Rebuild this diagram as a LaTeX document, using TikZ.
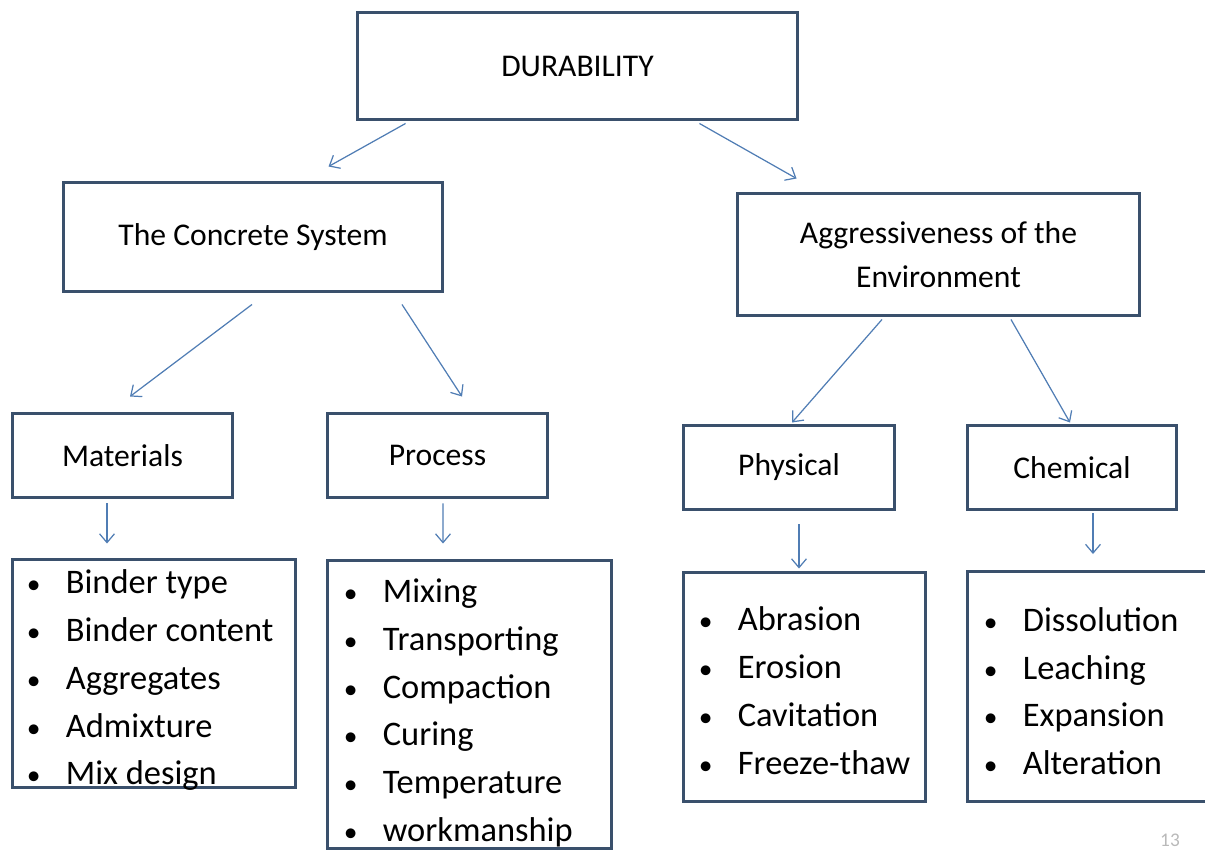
\documentclass[tikz,border=0pt]{standalone}
\usepackage{fontspec}
\setmainfont{Carlito}
\usetikzlibrary{arrows.meta, positioning}
\definecolor{boxline}{RGB}{58,80,108}
\definecolor{arrline}{RGB}{80,125,180}
\newcommand{\itm}[1]{\makebox[0.78cm][l]{\scalebox{0.8}{\textbullet}}#1}

\begin{document}
\begin{tikzpicture}[
    x=0.02cm, y=-0.02cm,
    box/.style={draw=boxline, line width=1.7pt, minimum height=1.7cm, align=center, font=\fontsize{18}{25}\selectfont},
    listbox/.style={draw=boxline, line width=1.7pt},
    items/.style={anchor=north west, inner sep=0pt, align=left, font=\fontsize{19.6}{27.2}\selectfont},
    arr/.style={-{Straight Barb[length=5pt,width=8.5pt]}, draw=arrline, line width=0.7pt}
  ]
  \useasboundingbox (0,0) rectangle (1205,851);

  % Top box
  \node[box, minimum width=8.82cm, minimum height=2.16cm] (dur) at (577.5,66) {DURABILITY};

  % Second level
  \node[box, minimum width=7.6cm, minimum height=2.2cm] (conc) at (253,237) {The Concrete System};
  \node[box, minimum width=8.06cm, minimum height=2.46cm] (aggr) at (938.5,254.5) {Aggressiveness of the\\Environment};

  % Third level
  \node[box, minimum width=4.42cm] (mat) at (122.5,455.5) {Materials};
  \node[box, minimum width=4.42cm] (proc) at (437.5,455.5) {Process};
  \node[box, minimum width=4.24cm] (phys) at (789,467.5) {Physical};
  \node[box, minimum width=4.2cm] (chem) at (1072,467.5) {Chemical};

  % List boxes
  \node[listbox, minimum width=5.68cm, minimum height=4.58cm] (matlist) at (154,673.5) {};
  \node[listbox, minimum width=5.7cm, minimum height=5.78cm] (proclist) at (469.5,704.5) {};
  \node[listbox, minimum width=4.86cm, minimum height=4.6cm] (physlist) at (804.5,687) {};
  \node[listbox, minimum width=4.96cm, minimum height=4.6cm] (chemlist) at (1091,686.5) {};

  % List items
  \node[items] (matitems) at ([shift={(16,12)}]matlist.north west)
    {\itm{Binder type}\\ \itm{Binder content}\\ \itm{Aggregates}\\ \itm{Admixture}\\ \itm{Mix design}};
  \node[items] (procitems) at ([shift={(18,20)}]proclist.north west)
    {\itm{Mixing}\\ \itm{Transporting}\\ \itm{Compaction}\\ \itm{Curing}\\ \itm{Temperature}\\ \itm{workmanship}};
  \node[items] (physitems) at ([shift={(17,36)}]physlist.north west)
    {\itm{Abrasion}\\ \itm{Erosion}\\ \itm{Cavitation}\\ \itm{Freeze-thaw}};
  \node[items] (chemitems) at ([shift={(18,37)}]chemlist.north west)
    {\itm{Dissolution}\\ \itm{Leaching}\\ \itm{Expansion}\\ \itm{Alteration}};

  % Arrows
  \draw[arr] ([shift={(50,2)}]dur.south west) -- ([shift={(267,-14)}]conc.north west);
  \draw[arr] ([shift={(-100,2)}]dur.south east) -- ([shift={(61,-13)}]aggr.north west);
  \draw[arr] ([shift={(-1,11)}]conc.south) -- ([shift={(7.5,-15)}]mat.north);
  \draw[arr] ([shift={(149,11)}]conc.south) -- ([shift={(24.5,-15)}]proc.north);
  \draw[arr] ([shift={(-56.5,2)}]aggr.south) -- ([shift={(3,-1)}]phys.north);
  \draw[arr] ([shift={(72.5,2)}]aggr.south) -- ([shift={(-2,-1)}]chem.north);
  \draw[arr] ([shift={(-15.5,4)}]mat.south) -- ([shift={(-47,-14)}]matlist.north);
  \draw[arr] ([shift={(5.5,4)}]proc.south) -- ([shift={(-26.5,-15)}]proclist.north);
  \draw[arr] ([shift={(10,13)}]phys.south) -- ([shift={(-5.5,-2)}]physlist.north);
  \draw[arr] ([shift={(21,2)}]chem.south) -- ([shift={(2,-16)}]chemlist.north);

  % Page number
  \node[text=gray!55, font=\fontsize{11}{13}\selectfont] (pgnum) at (1170,840) {13};
\end{tikzpicture}
\end{document}
